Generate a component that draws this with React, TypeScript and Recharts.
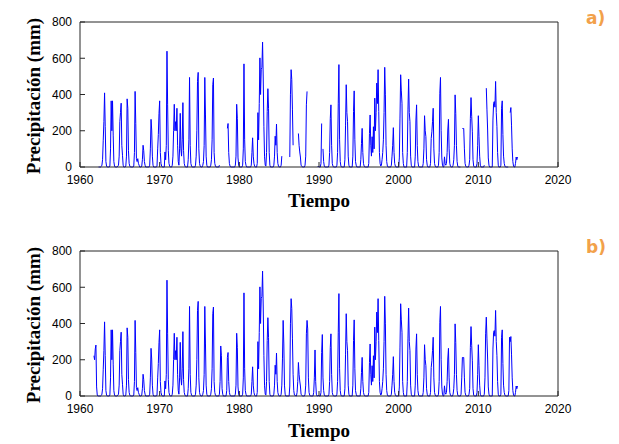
import { LineChart, Line, XAxis, YAxis } from "recharts";

const yearTicks = [1960, 1970, 1980, 1990, 2000, 2010, 2020];
const rainTicks = [0, 200, 400, 600, 800];

// monthly precipitation (mm), series starts Oct 1961
const firstYear = 1961;
const firstMonth = 10;

const rain1960s = [
  222, 200, 260, // 1961 Oct-Dec
  281, 50, 5, 0, 0, 0, 0, 0, 3, 10, 40, 148, // 1962
  250, 409, 222, 30, 5, 0, 0, 0, 0, 5, 100, 365, // 1963
  200, 365, 176, 30, 5, 0, 0, 0, 0, 5, 10, 60, // 1964
  250, 300, 352, 120, 65, 10, 0, 0, 0, 5, 60, 376, // 1965
  324, 90, 20, 5, 0, 0, 0, 0, 0, 5, 80, 417, // 1966
  241, 46, 30, 46, 20, 10, 0, 0, 0, 5, 40, 120, // 1967
  90, 30, 10, 0, 0, 0, 0, 0, 0, 10, 100, 263, // 1968
  204, 60, 10, 0, 0, 0, 0, 0, 5, 100, 180, 296, // 1969
];

const rain1970s = [
  365, 80, 20, 5, 0, 0, 0, 0, 83, 40, 120, 639, // 1970
  343, 90, 20, 5, 0, 0, 0, 10, 60, 200, 346, 200, // 1971
  250, 200, 324, 120, 30, 10, 100, 296, 100, 60, 150, 355, // 1972
  90, 20, 5, 0, 0, 0, 0, 40, 150, 494, 120, 20, // 1973
  5, 0, 0, 0, 0, 0, 10, 60, 200, 472, 522, 100, // 1974
  20, 5, 0, 0, 0, 10, 30, 120, 494, 287, 60, 10, // 1975
  0, 0, 0, 0, 0, 10, 40, 150, 454, 491, 80, 20, // 1976
  5, 0, 0, 0, 0, 0, 10, 80, 276, 222, 40, 10, // 1977
  0, 0, 0, 0, 0, 30, 213, 240, 80, 20, 5, 0, // 1978
  0, 0, 0, 0, 0, 0, 10, 60, 346, 269, 50, 10, // 1979
];

const rain1980s = [
  0, 0, 0, 0, 0, 10, 100, 569, 150, 30, 10, 0, // 1980
  0, 0, 0, 0, 0, 0, 10, 80, 161, 60, 20, 5, // 1981
  0, 0, 0, 20, 300, 150, 350, 602, 400, 537, 550, 689, // 1982
  491, 222, 56, 10, 5, 80, 306, 432, 324, 80, 10, 0, // 1983
  0, 0, 0, 0, 10, 60, 170, 120, 237, 80, 20, 5, // 1984
  0, 0, 0, 10, 60, 209, 417, 287, 60, 10, 0, 0, // 1985
  0, 0, 0, 0, 55, 398, 537, 482, 315, 120, 30, 5, // 1986
  5, 0, 0, 20, 80, 185, 120, 83, 55, 10, 5, 0, // 1987
  0, 0, 0, 10, 60, 343, 417, 370, 100, 20, 5, 0, // 1988
  0, 0, 0, 0, 20, 100, 254, 80, 10, 0, 0, 5, // 1989
];

const rain1990s = [
  0, 0, 0, 20, 240, 339, 100, 30, 5, 0, 0, 0, // 1990
  0, 0, 0, 10, 80, 268, 343, 120, 20, 5, 0, 0, // 1991
  0, 0, 0, 10, 80, 352, 565, 150, 30, 5, 0, 0, // 1992
  0, 0, 0, 40, 231, 454, 300, 250, 60, 10, 0, 0, // 1993
  0, 0, 0, 60, 306, 420, 150, 30, 10, 0, 0, 0, // 1994
  0, 0, 0, 40, 130, 213, 80, 20, 5, 0, 0, 0, // 1995
  0, 0, 0, 20, 185, 287, 120, 60, 167, 80, 222, 100, // 1996
  380, 200, 300, 463, 350, 537, 306, 80, 20, 5, 10, 40, // 1997
  80, 150, 300, 550, 398, 120, 30, 5, 0, 0, 0, 0, // 1998
  0, 10, 60, 120, 217, 80, 20, 5, 0, 0, 0, 0, // 1999
];

const rain2000s = [
  0, 50, 270, 509, 420, 352, 80, 20, 0, 0, 0, 0, // 2000
  0, 80, 315, 485, 300, 250, 60, 10, 0, 0, 0, 0, // 2001
  0, 60, 259, 343, 120, 30, 5, 0, 0, 0, 0, 0, // 2002
  0, 20, 100, 283, 200, 167, 40, 10, 0, 0, 0, 0, // 2003
  20, 157, 194, 250, 324, 100, 20, 5, 0, 0, 0, 0, // 2004
  10, 80, 407, 494, 200, 50, 10, 0, 0, 56, 20, 10, // 2005
  20, 80, 204, 263, 100, 20, 5, 0, 0, 0, 10, 40, // 2006
  120, 398, 296, 120, 30, 5, 0, 0, 0, 0, 10, 100, // 2007
  213, 210, 213, 100, 20, 5, 0, 0, 0, 0, 10, 40, // 2008
  268, 383, 280, 194, 40, 5, 0, 0, 0, 0, 20, 120, // 2009
];

const rain2010s = [
  283, 167, 60, 10, 0, 0, 0, 0, 0, 10, 100, 343, // 2010
  435, 315, 204, 50, 10, 0, 0, 0, 0, 0, 259, 352, // 2011
  361, 330, 472, 300, 222, 80, 10, 0, 0, 0, 10, 324, // 2012
  365, 180, 60, 20, 5, 0, 0, 0, 0, 0, 30, 324, // 2013
  300, 328, 231, 100, 30, 5, 0, 0, 20, 55, 40, 55, // 2014
];

// months that are missing in the raw series (panel a)
const missingA = [
  ["1961-10", "1962-04"],
  ["1977-08", "1978-06"],
  ["1985-06", "1986-04"],
  ["1986-11", "1987-05"],
  ["1988-08", "1989-10"],
  ["1990-06", "1990-06"],
  ["2007-11", "2007-12"],
  ["2010-11", "2010-12"],
  ["2013-11", "2013-12"],
];

const rain = [...rain1960s, ...rain1970s, ...rain1980s, ...rain1990s, ...rain2000s, ...rain2010s];

const monthIndex = (s: string) => {
  const [y, m] = s.split("-").map(Number);
  return (y - firstYear) * 12 + (m - firstMonth);
};

const isMissing = (i: number) =>
  missingA.some(([s, e]) => i >= monthIndex(s) && i <= monthIndex(e));

const series = rain.map((v, i) => ({
  t: firstYear + (firstMonth - 1 + i) / 12,
  raw: isMissing(i) ? null : v,
  filled: v,
}));

const axisColor = "#262626";
const tickFont = { fill: "#000", fontSize: 12, fontFamily: "'Liberation Sans', Arial, sans-serif" };

const Panel = ({ dataKey, top }: { dataKey: string; top: number }) => (
  <LineChart
    width={619}
    height={222}
    data={series}
    margin={{ top: 21, right: 60, bottom: 25, left: 50 }}
    style={{ position: "absolute", left: 0, top }}
  >
    <XAxis
      dataKey="t"
      type="number"
      domain={[1960, 2020]}
      ticks={yearTicks}
      interval={0}
      height={30}
      tickSize={-5}
      tickMargin={13}
      axisLine={{ stroke: axisColor }}
      tickLine={{ stroke: axisColor }}
      tick={tickFont}
    />
    <XAxis
      xAxisId="top"
      orientation="top"
      dataKey="t"
      type="number"
      domain={[1960, 2020]}
      ticks={yearTicks}
      interval={0}
      height={1}
      tickSize={-5}
      axisLine={{ stroke: axisColor }}
      tickLine={{ stroke: axisColor }}
      tick={false}
    />
    <YAxis
      type="number"
      domain={[0, 800]}
      ticks={rainTicks}
      interval={0}
      width={30}
      tickSize={-5}
      tickMargin={13}
      axisLine={{ stroke: axisColor }}
      tickLine={{ stroke: axisColor }}
      tick={tickFont}
    />
    <YAxis
      yAxisId="right"
      orientation="right"
      type="number"
      domain={[0, 800]}
      ticks={rainTicks}
      interval={0}
      width={1}
      tickSize={-5}
      axisLine={{ stroke: axisColor }}
      tickLine={{ stroke: axisColor }}
      tick={false}
    />
    <Line
      type="linear"
      dataKey={dataKey}
      stroke="#0000ff"
      strokeWidth={1}
      dot={false}
      connectNulls={false}
      isAnimationActive={false}
    />
  </LineChart>
);

const serif = "'Liberation Serif', 'Times New Roman', serif";

export default function App() {
  return (
    <div style={{ position: "absolute", left: 0, top: 0, width: 619, height: 444, background: "#fff" }}>
      <Panel dataKey="raw" top={0} />
      <Panel dataKey="filled" top={229} />
      <svg width={619} height={444} style={{ position: "absolute", left: 0, top: 0, pointerEvents: "none" }}>
        <text x={319} y={207} textAnchor="middle" fontFamily={serif} fontWeight="bold" fontSize={19}>
          Tiempo
        </text>
        <text x={319} y={437} textAnchor="middle" fontFamily={serif} fontWeight="bold" fontSize={19}>
          Tiempo
        </text>
        <text x={40} y={96} transform="rotate(-90 40 96)" textAnchor="middle" fontFamily={serif} fontWeight="bold" fontSize={19}>
          Precipitación (mm)
        </text>
        <text x={40} y={325} transform="rotate(-90 40 325)" textAnchor="middle" fontFamily={serif} fontWeight="bold" fontSize={19}>
          Precipitación (mm)
        </text>
        <text x={586} y={24} fill="#f2a14a" fontFamily="'DejaVu Sans', sans-serif" fontWeight="bold" fontSize={17}>
          a)
        </text>
        <text x={586} y={253} fill="#f2a14a" fontFamily="'DejaVu Sans', sans-serif" fontWeight="bold" fontSize={17}>
          b)
        </text>
      </svg>
    </div>
  );
}
